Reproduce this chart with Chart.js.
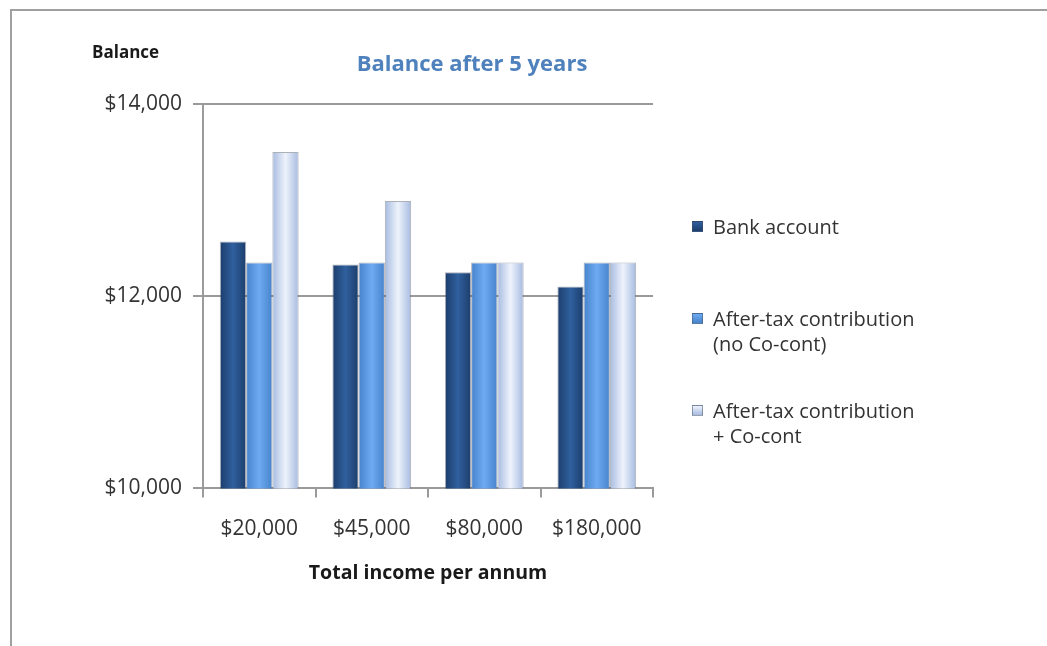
<!DOCTYPE html>
<html>
<head>
<meta charset="utf-8">
<script src="https://cdn.jsdelivr.net/npm/chart.js@4/dist/chart.umd.min.js"></script>
<style>
  html, body { margin: 0; padding: 0; background: #fff; }
  #wrap { position: relative; width: 1047px; height: 646px; overflow: hidden; font-family: "Open Sans", sans-serif; }
  #frame { position: absolute; left: 10px; top: 9px; right: -5px; bottom: -5px; border-top: 2px solid #a0a0a0; border-left: 2px solid #a0a0a0; pointer-events: none; }
  canvas { position: absolute; left: 0; top: 0; }
  .txt { position: absolute; white-space: nowrap; }
  #title { left: 472px; top: 62px; transform: translate(-50%, -50%); font-weight: bold; font-size: 22px; color: #4F81BD; }
  #ylab { left: 92px; top: 51px; transform: translateY(-50%); font-weight: bold; font-size: 17px; color: #1a1a1a; }
  .leg { position: absolute; left: 692px; font-size: 20px; color: #333; line-height: 25px; }
  .leg .sw { position: absolute; left: 0; top: 7px; width: 11px; height: 11px; }
  .leg .lt { position: absolute; left: 21px; top: 0; white-space: pre; }
</style>
</head>
<body>
<div id="wrap">
  <canvas id="c" width="1047" height="646"></canvas>
  <div id="frame"></div>
  <div class="txt" id="title">Balance after 5 years</div>
  <div class="txt" id="ylab">Balance</div>
  <div id="legend"></div>
</div>
<script>
const categories = ['$20,000', '$45,000', '$80,000', '$180,000'];
const seriesNames = ['Bank account', 'After-tax contribution\n(no Co-cont)', 'After-tax contribution\n+ Co-cont'];
const bankAccount = [12570, 12330, 12250, 12100];
const afterTaxNoCoCont = [12350, 12350, 12350, 12350];
const afterTaxCoCont = [13500, 12990, 12350, 12350];
const yTickValues = [10000, 12000, 14000];
const xTitle = 'Total income per annum';

const palette = [
  ['#1c3d6b', '#30609e'],
  ['#4683cc', '#6eaaf0'],
  ['#a6bbe0', '#eef3fc']
];
const catPct = 0.70;

function barFill(idx) {
  const [edge, mid] = palette[idx];
  return (ctx) => {
    const chart = ctx.chart;
    const area = chart.chartArea;
    if (!area || ctx.type !== 'data' || !chart.scales.x) return edge;
    const xs = chart.scales.x;
    const cw = (area.right - area.left) / categories.length;
    const bw = cw * catPct / 3;
    const cx = xs.getPixelForValue(ctx.dataIndex) + (ctx.datasetIndex - 1) * bw;
    const g = chart.ctx.createLinearGradient(cx - bw / 2, 0, cx + bw / 2, 0);
    g.addColorStop(0, edge);
    g.addColorStop(0.5, mid);
    g.addColorStop(1, edge);
    return g;
  };
}

const seriesData = [bankAccount, afterTaxNoCoCont, afterTaxCoCont];
const fmt = v => '$' + v.toLocaleString('en-US');

const chart = new Chart(document.getElementById('c'), {
  type: 'bar',
  data: {
    labels: categories,
    datasets: seriesData.map((d, i) => ({
      label: seriesNames[i],
      data: d,
      backgroundColor: barFill(i),
      borderColor: 'rgba(70,80,100,0.45)',
      borderWidth: 1,
      barPercentage: 1.0,
      categoryPercentage: catPct
    }))
  },
  options: {
    responsive: false,
    animation: false,
    devicePixelRatio: 1,
    layout: { padding: { left: 0, right: 394, top: 104, bottom: 61 } },
    plugins: { legend: { display: false }, title: { display: false }, tooltip: { enabled: false } },
    scales: {
      x: {
        grid: { display: true, drawOnChartArea: false, drawTicks: true, tickLength: 9, color: '#9a9a9a', lineWidth: 2, offset: true },
        border: { display: true, color: '#9a9a9a', width: 2 },
        ticks: { color: '#333', font: { family: 'Open Sans', size: 21 }, padding: 19, maxRotation: 0 },
        title: { display: true, text: xTitle, color: '#1a1a1a', font: { family: 'Open Sans', size: 19.5, weight: 'bold' }, padding: { top: 1, bottom: 0 } }
      },
      y: {
        min: 10000, max: 14000,
        afterFit: (s) => { s.width = 203; },
        afterBuildTicks: (s) => { s.ticks = yTickValues.map(v => ({ value: v })); },
        grid: { color: '#9a9a9a', lineWidth: 2, tickLength: 10, drawTicks: true },
        border: { display: true, color: '#9a9a9a', width: 2 },
        ticks: { color: '#333', font: { family: 'Open Sans', size: 21 }, padding: 11, callback: (v) => fmt(v) }
      }
    }
  }
});

// HTML legend built from datasets
const legendTops = [213.5, 305.5, 397.5];
const legendEl = document.getElementById('legend');
chart.data.datasets.forEach((ds, i) => {
  const item = document.createElement('div');
  item.className = 'leg';
  item.style.top = legendTops[i] + 'px';
  const sw = document.createElement('div');
  sw.className = 'sw';
  sw.style.background = 'linear-gradient(to bottom, ' + palette[i][1] + ', ' + palette[i][0] + ')';
  sw.style.border = '1px solid rgba(70,80,100,0.5)';
  sw.style.boxSizing = 'border-box';
  const lt = document.createElement('div');
  lt.className = 'lt';
  lt.textContent = ds.label;
  item.appendChild(sw);
  item.appendChild(lt);
  legendEl.appendChild(item);
});
</script>
</body>
</html>
